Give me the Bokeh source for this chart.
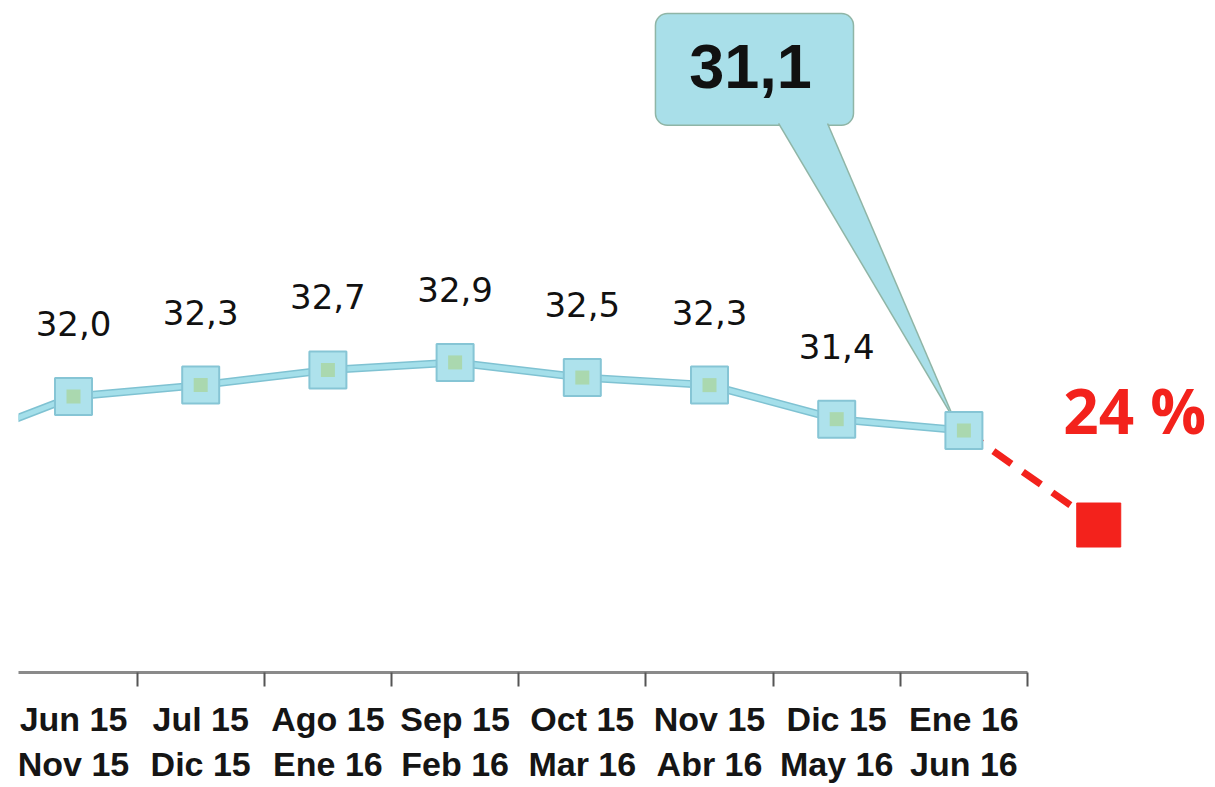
from bokeh.plotting import figure
from bokeh.models import Range1d, FixedTicker, ColumnDataSource
from bokeh.core.properties import value
from bokeh.embed import file_html
from bokeh.resources import INLINE

# ---- data -------------------------------------------------------------
period_start = ["Jun 15", "Jul 15", "Ago 15", "Sep 15", "Oct 15", "Nov 15", "Dic 15", "Ene 16"]
period_end = ["Nov 15", "Dic 15", "Ene 16", "Feb 16", "Mar 16", "Abr 16", "May 16", "Jun 16"]
values = [32.0, 32.3, 32.7, 32.9, 32.5, 32.3, 31.4, 31.1]
lead_in_value = 30.7          # previous period, off the left edge
projection_value = 28.6       # projected next period (red square)
projection_label = "24 %"

# ---- derived ----------------------------------------------------------
n = len(values)
xs = list(range(n))
labels = [f"{v:.1f}".replace(".", ",") for v in values]

BLUE_LINE = "#a4dfea"
BLUE_EDGE = "#7fc2d2"
MARK_FILL = "#aee2ec"
MARK_EDGE = "#86c5d5"
GREEN = "#a9d6a0"
RED = "#f3221c"

p = figure(frame_width=1189, frame_height=664,
           x_range=Range1d(-0.4324, 8.915), y_range=Range1d(24.70, 42.26),
           output_backend="svg", toolbar_location=None,
           min_border_left=18, min_border_right=0, min_border_top=8, min_border_bottom=0)
p.outline_line_color = None
p.grid.visible = False
p.yaxis.visible = False
p.background_fill_color = "white"
p.border_fill_color = "white"

# x axis: labels at category centres, ticks between categories
ax = p.xaxis[0]
ax.ticker = FixedTicker(ticks=xs, minor_ticks=[i + 0.5 for i in xs])
ax.major_label_overrides = {i: f"{a}\n{b}" for i, a, b in zip(xs, period_start, period_end)}
ax.bounds = (-0.5, n - 0.5)
ax.major_tick_out = 0
ax.major_tick_in = 0
ax.minor_tick_out = 14
ax.minor_tick_in = 0
ax.minor_tick_line_color = "#555555"
ax.minor_tick_line_width = 2
ax.axis_line_color = "#8a8a8a"
ax.axis_line_width = 3
ax.major_label_standoff = 13
ax.major_label_text_font = "Liberation Sans"
ax.major_label_text_font_style = "bold"
ax.major_label_text_font_size = "34px"
ax.major_label_text_color = "#151515"
ax.major_label_text_line_height = 1.2

# ---- callout for last point (drawn first, under the line) --------------
lx, lv = xs[-1], values[-1]
p.quad(left=[lx - 2.425], right=[lx - 0.868], bottom=[lv + 8.07], top=[lv + 11.03],
       fill_color="#a9dfe9", line_color="#8fb5a6", line_width=1.5, border_radius=12)
ptr_x = [lx - 1.457, lx - 1.072, lx - 0.07]
ptr_y = [lv + 8.12, lv + 8.12, lv + 0.25]
p.patch(ptr_x, ptr_y, fill_color="#a9dfe9", line_color=None)
p.multi_line([[ptr_x[0], ptr_x[2]], [ptr_x[1], ptr_x[2]]],
             [[ptr_y[0], ptr_y[2]], [ptr_y[1], ptr_y[2]]],
             line_color="#8fb5a6", line_width=1.5)
p.text(x=[lx - 1.678], y=[lv + 9.626], text=[labels[-1]],
       text_font=value("Liberation Sans"), text_font_style="bold",
       text_font_size="63px", text_color="#111111",
       text_align="center", text_baseline="middle")

# ---- projection (red) ---------------------------------------------------
px = lx + 1.06
p.line([lx, px], [lv, projection_value], line_color=RED, line_width=7,
       line_dash="22 14")
p.scatter([px], [projection_value], marker="square", size=44,
          fill_color=RED, line_color=RED)
p.text(x=[px], y=[projection_value], text=[projection_label],
       x_offset=36, y_offset=-115,
       text_font=value("Open Sans"), text_font_style="bold",
       text_font_size="62px", text_color=RED,
       text_align="center", text_baseline="middle")

# ---- main series ------------------------------------------------------
src = ColumnDataSource(dict(x=xs, y=values, label=labels))
line_x = [-1] + xs
line_y = [lead_in_value] + values
p.line(line_x, line_y, line_color=BLUE_EDGE, line_width=8)
p.line(line_x, line_y, line_color=BLUE_LINE, line_width=5)
p.scatter("x", "y", source=src, marker="square", size=37,
          fill_color=MARK_FILL, line_color=MARK_EDGE, line_width=2)
p.scatter("x", "y", source=src, marker="square", size=14,
          fill_color=GREEN, line_color=None, fill_alpha=0.8)

lab_src = ColumnDataSource(dict(x=xs[:-1], y=values[:-1], label=labels[:-1]))
p.text("x", "y", text="label", source=lab_src, y_offset=-73,
       text_font=value("DejaVu Sans"), text_font_size="34px",
       text_color="#111111", text_align="center", text_baseline="middle")

open("out.html", "w").write(file_html(p, INLINE))
